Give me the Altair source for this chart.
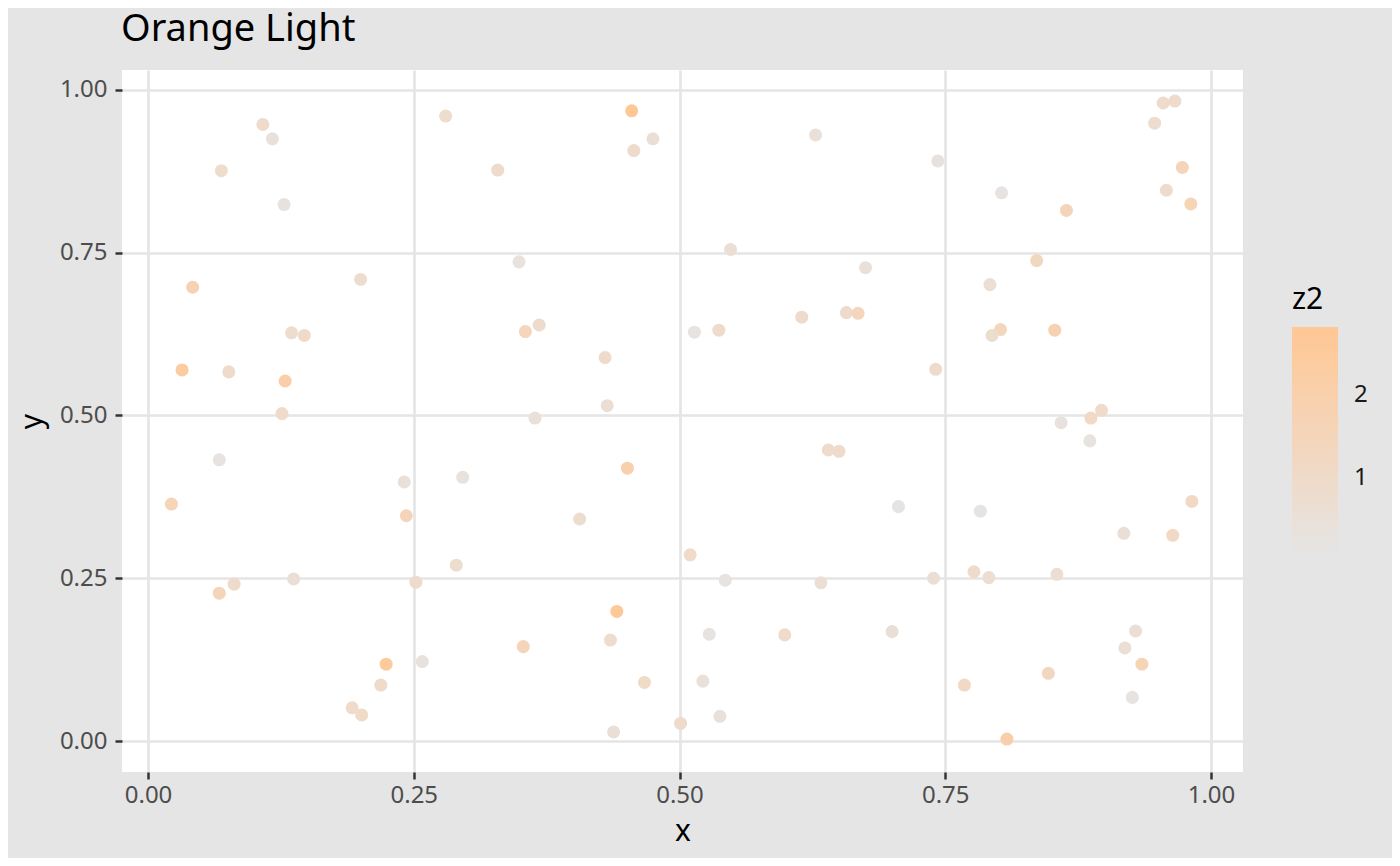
import altair as alt
import pandas as pd

x = [0.108, 0.117, 0.069, 0.128, 0.280, 0.329, 0.042, 0.200, 0.135, 0.147, 0.032, 0.076, 0.129,
     0.126, 0.067, 0.022, 0.241, 0.296, 0.243, 0.290, 0.067, 0.081, 0.137, 0.252, 0.224, 0.258, 0.219, 0.192, 0.201,
     0.455, 0.475, 0.457, 0.628, 0.349, 0.548, 0.675, 0.355, 0.368, 0.430, 0.432, 0.514, 0.537, 0.615, 0.657, 0.668,
     0.364, 0.451, 0.406, 0.640, 0.650, 0.510, 0.543, 0.633, 0.441, 0.353, 0.435, 0.528, 0.599, 0.467, 0.522, 0.501, 0.538, 0.438,
     0.955, 0.966, 0.947, 0.743, 0.803, 0.973, 0.958, 0.981, 0.864, 0.836, 0.792, 0.802, 0.794, 0.853, 0.741,
     0.897, 0.887, 0.859, 0.886, 0.706, 0.783, 0.982, 0.918, 0.964, 0.739, 0.777, 0.791, 0.855, 0.700, 0.929, 0.919, 0.935, 0.926, 0.768, 0.847, 0.808]
y = [0.947, 0.925, 0.876, 0.824, 0.960, 0.877, 0.697, 0.709, 0.627, 0.623, 0.570, 0.567, 0.553,
     0.503, 0.432, 0.364, 0.398, 0.405, 0.346, 0.270, 0.227, 0.241, 0.249, 0.244, 0.118, 0.122, 0.086, 0.051, 0.040,
     0.968, 0.925, 0.907, 0.931, 0.736, 0.755, 0.727, 0.629, 0.639, 0.589, 0.515, 0.628, 0.631, 0.651, 0.658, 0.657,
     0.496, 0.419, 0.341, 0.447, 0.445, 0.286, 0.247, 0.243, 0.199, 0.145, 0.155, 0.164, 0.163, 0.090, 0.092, 0.027, 0.038, 0.014,
     0.980, 0.983, 0.949, 0.891, 0.842, 0.881, 0.846, 0.825, 0.815, 0.738, 0.701, 0.632, 0.623, 0.631, 0.571,
     0.508, 0.496, 0.489, 0.461, 0.360, 0.353, 0.368, 0.319, 0.316, 0.250, 0.260, 0.251, 0.256, 0.168, 0.169, 0.143, 0.118, 0.067, 0.086, 0.104, 0.003]
z2 = [0.95, 0.45, 0.90, 0.30, 0.80, 0.95, 1.80, 0.80, 0.80, 0.95, 2.45, 0.95, 2.15,
      0.95, 0.20, 1.65, 0.45, 0.30, 1.55, 0.80, 1.55, 0.95, 0.60, 0.95, 2.55, 0.30, 1.05, 0.95, 1.05,
      2.82, 0.60, 0.95, 0.45, 0.30, 0.60, 0.45, 1.40, 0.95, 0.95, 0.60, 0.20, 0.95, 0.95, 0.95, 1.40,
      0.45, 1.95, 0.80, 0.95, 0.95, 1.05, 0.20, 0.70, 2.65, 1.55, 0.80, 0.20, 0.95, 1.05, 0.45, 0.95, 0.45, 0.55,
      0.95, 0.95, 0.80, 0.30, 0.20, 1.55, 0.95, 1.65, 1.55, 1.30, 0.60, 1.40, 0.80, 1.80, 0.95,
      0.95, 1.15, 0.30, 0.25, 0.15, 0.12, 1.15, 0.55, 1.15, 0.60, 0.95, 0.70, 0.70, 0.55, 0.60, 0.60, 1.65, 0.20, 1.15, 1.30, 2.05]

ticks = [0.0, 0.25, 0.5, 0.75, 1.0]
legend_ticks = [1, 2]

df = pd.DataFrame({"x": x, "y": y, "z2": z2})

FONT = "Noto Sans"

chart = alt.Chart(df).mark_circle(size=170, opacity=1, clip=True).encode(
    x=alt.X("x:Q",
            scale=alt.Scale(domain=[-0.0245, 1.0301], nice=False, zero=False),
            axis=alt.Axis(values=ticks, format=".2f", title="x",
                          titleX=560.5, titleY=68, titleBaseline="alphabetic",
                          titleAnchor="middle")),
    y=alt.Y("y:Q",
            scale=alt.Scale(domain=[-0.0476, 1.0307], nice=False, zero=False),
            axis=alt.Axis(values=ticks, format=".2f", title="y",
                          titleX=-81, titleY=351, titleBaseline="alphabetic",
                          titleAnchor="middle")),
    color=alt.Color("z2:Q",
                    scale=alt.Scale(domain=[min(z2), max(z2)], range=["#e5e4e3", "#ffc794"],
                                    interpolate="lab", nice=False, zero=False),
                    legend=alt.Legend(title="z2", values=legend_ticks, format="d",
                                      orient="none",
                                      legendX=1170, legendY=215, direction="vertical",
                                      gradientLength=224, gradientThickness=46,
                                      gradientStrokeWidth=0,
                                      titleFontSize=30, titleFont=FONT, titleColor="#000000",
                                      titleFontWeight="normal", titlePadding=12,
                                      labelFontSize=24, labelFont=FONT, labelColor="#1a1a1a",
                                      labelOffset=16)),
).properties(
    width=1121,
    height=702,
    title=alt.TitleParams("Orange Light", anchor="start", fontSize=38, font=FONT,
                          fontWeight="normal", color="#000000", baseline="alphabetic",
                          offset=-9, dx=104),
    autosize=alt.AutoSizeParams(type="none"),
    padding={"left": 114, "top": 62, "right": 149, "bottom": 86},
    background="#e5e5e5",
).configure_view(
    fill="#ffffff", stroke=None
).configure_axis(
    grid=True, gridColor="#e5e5e5", gridWidth=2.7,
    domain=False,
    tickColor="#333333", tickWidth=2.5, tickSize=7,
    labelFont=FONT, labelFontSize=24, labelColor="#4d4d4d",
    titleFont=FONT, titleFontSize=30, titleColor="#000000", titleFontWeight="normal",
).configure_axisX(
    labelPadding=4,
).configure_axisY(
    labelPadding=8,
)

chart.save("out.html", embed_options={"renderer": "svg", "actions": False})
